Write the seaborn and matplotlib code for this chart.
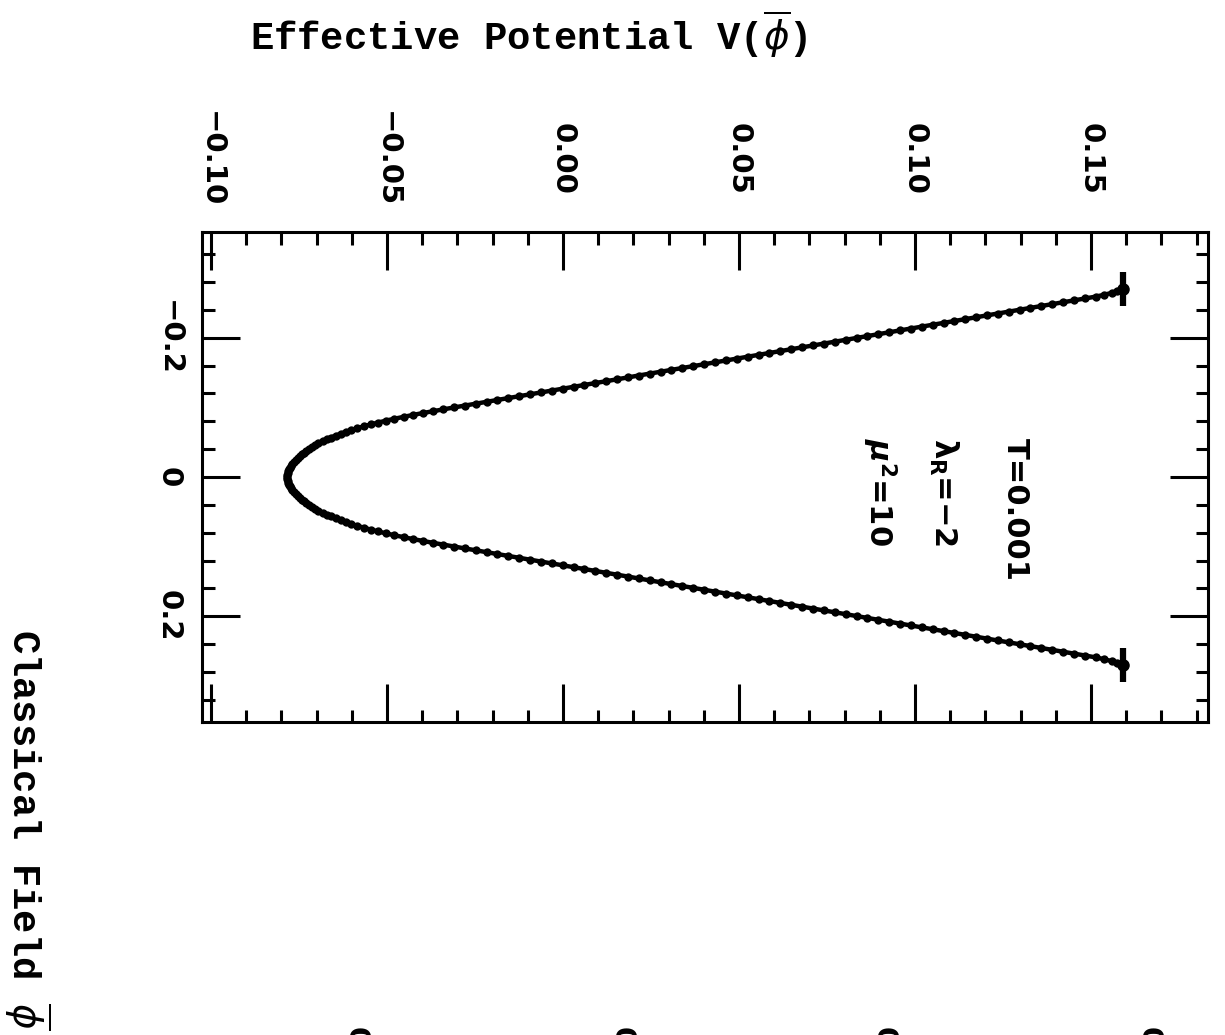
import numpy as np
import pandas as pd
import matplotlib
matplotlib.use("Agg")
import matplotlib.pyplot as plt
import seaborn as sns
from matplotlib.ticker import MultipleLocator

# Effective potential V(phi) sampled for phi >= 0 (the potential is even in phi)
potential_half = [
    -0.0783, -0.0783, -0.0782, -0.0780, -0.0778, -0.0775, -0.0772, -0.0769, -0.0764, -0.0759,
    -0.0754, -0.0748, -0.0742, -0.0736, -0.0729, -0.0721, -0.0713, -0.0705, -0.0695, -0.0683,
    -0.0671, -0.0659, -0.0646, -0.0631, -0.0617, -0.0601, -0.0584, -0.0565, -0.0546, -0.0525,
    -0.0503, -0.0479, -0.0453, -0.0427, -0.0399, -0.0370, -0.0340, -0.0310, -0.0279, -0.0248,
    -0.0217, -0.0187, -0.0156, -0.0125, -0.0094, -0.0063, -0.0032, -0.0001, 0.0030, 0.0061,
    0.0092, 0.0123, 0.0154, 0.0185, 0.0215, 0.0246, 0.0277, 0.0308, 0.0339, 0.0370,
    0.0401, 0.0432, 0.0463, 0.0494, 0.0525, 0.0556, 0.0586, 0.0617, 0.0648, 0.0679,
    0.0710, 0.0741, 0.0772, 0.0803, 0.0834, 0.0865, 0.0896, 0.0927, 0.0957, 0.0988,
    0.1019, 0.1050, 0.1081, 0.1112, 0.1143, 0.1174, 0.1205, 0.1236, 0.1267, 0.1297,
    0.1328, 0.1359, 0.1390, 0.1421, 0.1452, 0.1483, 0.1514, 0.1538, 0.1559, 0.1575,
    0.1590,
]
potential = potential_half[::-1] + potential_half[1:]
field = np.linspace(-0.27, 0.27, len(potential))
end_error = 0.025

v_ticks = [-0.10, -0.05, 0.00, 0.05, 0.10, 0.15]
v_labels = ["\u22120.10", "\u22120.05", "0.00", "0.05", "0.10", "0.15"]
phi_ticks = [-0.2, 0.0, 0.2]
phi_labels = ["\u22120.2", "0", "0.2"]

sns.set_theme(style="white")
plt.rcParams.update({
    "font.family": ["DejaVu Sans"],
    "mathtext.fontset": "dejavusans",
    "axes.edgecolor": "black",
    "axes.linewidth": 2.2,
    "text.color": "black",
    "xtick.color": "black",
    "ytick.color": "black",
})

fig = plt.figure(figsize=(12.25, 10.35), dpi=100)
ax = fig.add_axes([202 / 1225, 1 - 722 / 1035, 1006 / 1225, 490 / 1035])

df = pd.DataFrame({"field": field, "potential": potential})
sns.lineplot(data=df, x="potential", y="field", orient="y", color="black",
             linewidth=3.2, marker="o", markersize=6, markeredgewidth=0,
             errorbar=None, ax=ax)

# error bars on the two end points
ax.errorbar([potential[0], potential[-1]], [field[0], field[-1]], yerr=end_error,
            fmt="o", color="black", ms=8, elinewidth=4.5, capsize=0)

ax.set_xlim(-0.10256, 0.18324)
ax.set_ylim(0.352, -0.352)
ax.set_xlabel("")
ax.set_ylabel("")

ax.set_xticks(v_ticks, v_labels)
ax.xaxis.set_minor_locator(MultipleLocator(0.01))
ax.set_yticks(phi_ticks, phi_labels)
ax.yaxis.set_minor_locator(MultipleLocator(0.04))

ax.tick_params(which="both", direction="in", top=True, bottom=True, left=True,
               right=True, width=2.2, color="black")
ax.tick_params(which="major", length=27.4)
ax.tick_params(which="minor", length=9)
ax.tick_params(axis="x", labeltop=True, labelbottom=False, labelrotation=-90,
               pad=52.6, labelsize=21)
ax.tick_params(axis="y", labelleft=True, labelrotation=-90, pad=23.8, labelsize=21)
for lab in ax.get_xticklabels(which="major"):
    lab.set_verticalalignment("center")
    lab.set_fontweight("bold")
for lab in ax.get_yticklabels(which="major"):
    lab.set_horizontalalignment("center")
    lab.set_verticalalignment("center")
    lab.set_fontweight("bold")

# parameter annotations
note_kw = dict(rotation=-90, rotation_mode="anchor", ha="left", va="baseline",
               fontsize=22, fontweight="bold")
ax.text(0.1260, -0.0557, "T=0.001", **note_kw)
ax.text(0.1055, -0.0557, r"$\mathbf{\lambda_R}$=\u22122".replace("\\u2212", "\u2212"), **note_kw)
ax.text(0.0868, -0.0557, r"$\mathbfit{\mu}^{\mathbf{2}}$=10", **note_kw)

# axis titles
fig.text(250 / 1225, 1 - 50 / 1035, r"Effective Potential V($\overline{\phi}$)",
         family=["Liberation Mono", "DejaVu Sans"], fontweight="bold", fontsize=28,
         ha="left", va="baseline")
fig.text(12 / 1225, 1 - 629 / 1035, r"Classical Field $\overline{\phi}$",
         family=["Liberation Mono", "DejaVu Sans"], fontweight="bold", fontsize=28,
         rotation=-90, rotation_mode="anchor", ha="left", va="baseline")

# tops of the next row of labels, cut by the lower page edge
for xp in [356, 622, 884, 1149]:
    fig.text(xp / 1225, 1 - 1027 / 1035, "0", rotation=-90, ha="center", va="top",
             fontsize=21, fontweight="bold")

fig.savefig("out.png", dpi=100, facecolor="white")
